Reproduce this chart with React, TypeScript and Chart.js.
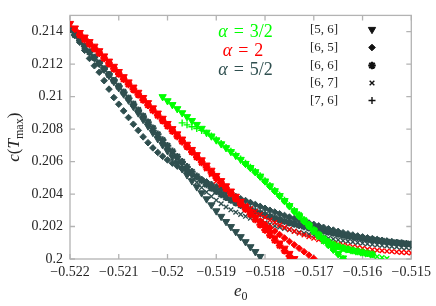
import { useEffect, useRef } from "react";
import { Chart, registerables } from "chart.js";
import { drawPoint } from "chart.js/helpers";

Chart.register(...registerables);

// ---- axes -----------------------------------------------------------
const xTicks = [-0.522, -0.521, -0.52, -0.519, -0.518, -0.517, -0.516, -0.515];
const xTickLabels = ["\u22120.522", "\u22120.521", "\u22120.52", "\u22120.519", "\u22120.518", "\u22120.517", "\u22120.516", "\u22120.515"];
const yTicks = [0.2, 0.202, 0.204, 0.206, 0.208, 0.21, 0.212, 0.214];
const yTickLabels = ["0.2", "0.202", "0.204", "0.206", "0.208", "0.21", "0.212", "0.214"];

// ---- e0 grid (step 1e-4) ------------------------------------------
const e0Grid = [
  -0.522, -0.5219, -0.5218, -0.5217, -0.5216, -0.5215, -0.5214, -0.5213, -0.5212, -0.5211,
  -0.521, -0.5209, -0.5208, -0.5207, -0.5206, -0.5205, -0.5204, -0.5203, -0.5202, -0.5201,
  -0.52, -0.5199, -0.5198, -0.5197, -0.5196, -0.5195, -0.5194, -0.5193, -0.5192, -0.5191,
  -0.519, -0.5189, -0.5188, -0.5187, -0.5186, -0.5185, -0.5184, -0.5183, -0.5182, -0.5181,
  -0.518, -0.5179, -0.5178, -0.5177, -0.5176, -0.5175, -0.5174, -0.5173, -0.5172, -0.5171,
  -0.517, -0.5169, -0.5168, -0.5167, -0.5166, -0.5165, -0.5164, -0.5163, -0.5162, -0.5161,
  -0.516, -0.5159, -0.5158, -0.5157, -0.5156, -0.5155, -0.5154, -0.5153, -0.5152, -0.5151,
  -0.515,
];

// ---- alpha = 3/2 (green) -------------------------------------------
const g56Start = 19;
const g56 = [0.20999, 0.20974, 0.2095, 0.20925, 0.209, 0.20876, 0.20852, 0.20828, 0.20804, 0.2078, 0.20757, 0.20733, 0.20709, 0.20685, 0.20661, 0.20637, 0.20613, 0.20588, 0.20563, 0.20537, 0.2051, 0.2048, 0.2045, 0.2042, 0.2039, 0.20359, 0.20328, 0.20296, 0.20265, 0.20234, 0.20204, 0.20174, 0.20144, 0.20116, 0.20088, 0.2006, 0.20033, 0.20006];
const g76Start = 23;
const g76 = [0.20838, 0.20826, 0.20814, 0.20804, 0.20792, 0.20775, 0.20757, 0.20735, 0.20711, 0.20687, 0.20663, 0.20639, 0.20615, 0.2059, 0.20565, 0.20539, 0.20512, 0.20482, 0.20452, 0.20422, 0.20392, 0.20361, 0.2033, 0.20298, 0.20267];
const g65Start = 36;
const g65 = [0.20584, 0.20559, 0.20533, 0.20506, 0.20476, 0.20446, 0.20416, 0.20386, 0.20355, 0.20324, 0.20292, 0.20261, 0.2023, 0.202, 0.2017, 0.2014, 0.20112, 0.20084, 0.20056, 0.20029, 0.20002];
const g67Start = 44;
const g67 = [0.20359, 0.20328, 0.20296, 0.20265, 0.20234, 0.20198, 0.20164, 0.20134, 0.20108, 0.20086, 0.20075, 0.20066, 0.20058, 0.20051, 0.20045, 0.20039, 0.20033, 0.20027, 0.20021, 0.20015, 0.20009, 0.20003];
const g66Start = 47;
const g66 = [0.2027, 0.2024, 0.2021, 0.20178, 0.2015, 0.20126, 0.20106, 0.2009, 0.20078, 0.20068, 0.2006, 0.20053, 0.20047, 0.20041, 0.20035, 0.20029];

// ---- alpha = 2 (red) ------------------------------------------------
const r56Start = 0;
const r56 = [0.2145, 0.21422, 0.21394, 0.21366, 0.21338, 0.2131, 0.21282, 0.2125, 0.21218, 0.21186, 0.21154, 0.21122, 0.2109, 0.21058, 0.21026, 0.20994, 0.20962, 0.2093, 0.20898, 0.20866, 0.20834, 0.20802, 0.2077, 0.20738, 0.20706, 0.20674, 0.20642, 0.2061, 0.20578, 0.20546, 0.20514, 0.20482, 0.2045, 0.20418, 0.20386, 0.20354, 0.20322, 0.2029, 0.20258, 0.20226, 0.20194, 0.20162, 0.2013, 0.20098, 0.20066, 0.20034, 0.20002];
const r66Start = 2;
const r66 = [0.21379, 0.21351, 0.21323, 0.21295, 0.21267, 0.21235, 0.21203, 0.21171, 0.21139, 0.21107, 0.21075, 0.21043, 0.21011, 0.20979, 0.20947, 0.20915, 0.20883, 0.20851, 0.20819, 0.20787, 0.20755, 0.20723, 0.20691, 0.20659, 0.20627, 0.20595, 0.20563, 0.20531, 0.20499, 0.20467, 0.20435, 0.20403, 0.20371, 0.20339, 0.20307, 0.20275, 0.20243, 0.20211, 0.20179, 0.20147, 0.20115, 0.20083, 0.20051, 0.20019];
const r65Start = 1;
const r65 = [0.21414, 0.21386, 0.21358, 0.2133, 0.21302, 0.21274, 0.21242, 0.2121, 0.21178, 0.21146, 0.21114, 0.21082, 0.2105, 0.21018, 0.20986, 0.20954, 0.20922, 0.2089, 0.20858, 0.20826, 0.20794, 0.20762, 0.2073, 0.20698, 0.20666, 0.20634, 0.20602, 0.2057, 0.20538, 0.20506, 0.20474, 0.20442, 0.2041, 0.20378, 0.20346, 0.20314, 0.20284, 0.20258, 0.20235, 0.20213, 0.20192, 0.20171, 0.2015, 0.20129, 0.20108, 0.20087, 0.20066, 0.20045, 0.20024, 0.20003];
const r67Start = 18;
const r67 = [0.2089, 0.2086, 0.2083, 0.208, 0.2076, 0.2073, 0.207, 0.2066, 0.2063, 0.2059, 0.20555, 0.2052, 0.2048, 0.20455, 0.2043, 0.20405, 0.2038, 0.20355, 0.2033, 0.2031, 0.20292, 0.20274, 0.20256, 0.20239, 0.20224, 0.20209, 0.20195, 0.20182, 0.2017, 0.20159, 0.20148, 0.20138, 0.20128, 0.20119, 0.2011, 0.20102, 0.20096, 0.2009, 0.20085, 0.2008, 0.20075, 0.2007, 0.20065, 0.2006, 0.20057, 0.20054, 0.20051, 0.20048, 0.20046, 0.20043, 0.20041, 0.20039, 0.20037];

// ---- alpha = 5/2 (dark slate) ---------------------------------------
const d56Start = 0;
const d56 = [0.2142, 0.21384, 0.21348, 0.21312, 0.21276, 0.2124, 0.21204, 0.21168, 0.2113, 0.21092, 0.21054, 0.21016, 0.20978, 0.20939, 0.20899, 0.20859, 0.20819, 0.20779, 0.2074, 0.20703, 0.20666, 0.20629, 0.20592, 0.20555, 0.20518, 0.20481, 0.20444, 0.20407, 0.2037, 0.20333, 0.20296, 0.20262, 0.2023, 0.20199, 0.20168, 0.20137, 0.20106, 0.20075, 0.20045, 0.20015];
const d65Start = 0;
const d65 = [0.2142, 0.2138, 0.21335, 0.21285, 0.21235, 0.2119, 0.2115, 0.21098, 0.21046, 0.20994, 0.20953, 0.20912, 0.20871, 0.2083, 0.20792, 0.20752, 0.20716, 0.20684, 0.20656, 0.20632, 0.2061, 0.2059, 0.20572, 0.20555, 0.2054, 0.20523, 0.20506, 0.2049, 0.20475, 0.2046, 0.20445, 0.2043, 0.20415, 0.204, 0.20385, 0.20371, 0.2036, 0.20348, 0.20336, 0.20324, 0.20312, 0.203, 0.20289, 0.20278, 0.20268, 0.20258, 0.20249, 0.2024, 0.20231, 0.20222, 0.20213, 0.20204, 0.20195, 0.20186, 0.20178, 0.2017, 0.20162, 0.20155, 0.20148, 0.20142, 0.20136, 0.2013, 0.20125, 0.2012, 0.20115, 0.2011, 0.20106, 0.20102, 0.20098, 0.20094, 0.2009];
const d67Start = 0;
const d67 = [0.2142, 0.21386, 0.21352, 0.21318, 0.21284, 0.2125, 0.21214, 0.21178, 0.21142, 0.21106, 0.2107, 0.21033, 0.20996, 0.20958, 0.2092, 0.20882, 0.20844, 0.20806, 0.20768, 0.2073, 0.20692, 0.20654, 0.20616, 0.20578, 0.2054, 0.20505, 0.20472, 0.2044, 0.20412, 0.20386, 0.20362, 0.2034, 0.2032, 0.20303, 0.20288, 0.20275, 0.20263, 0.20252, 0.20242, 0.20232, 0.20222, 0.20213, 0.20204, 0.20196, 0.20188, 0.2018, 0.20172, 0.20165, 0.20158, 0.20152, 0.20146, 0.2014, 0.20134, 0.20128, 0.20123, 0.20118, 0.20113, 0.20109, 0.20105, 0.20101, 0.20097, 0.20093, 0.2009, 0.20087, 0.20084, 0.20081, 0.20078, 0.20075, 0.20072, 0.2007, 0.20068];
const d66Start = 0;
const d66 = [0.21415, 0.2138, 0.21345, 0.2131, 0.21275, 0.2124, 0.21205, 0.2117, 0.21134, 0.21098, 0.21062, 0.21026, 0.2099, 0.20953, 0.20916, 0.20879, 0.20842, 0.20805, 0.20768, 0.20732, 0.20697, 0.20663, 0.2063, 0.20598, 0.20567, 0.20537, 0.20509, 0.20483, 0.20459, 0.20437, 0.20417, 0.20398, 0.2038, 0.20363, 0.20347, 0.20332, 0.20318, 0.20305, 0.20293, 0.20282, 0.20271, 0.20261, 0.20251, 0.20242, 0.20233, 0.20224, 0.20216, 0.20208, 0.202, 0.20193, 0.20186, 0.20179, 0.20172, 0.20166, 0.2016, 0.20154, 0.20148, 0.20143, 0.20138, 0.20133, 0.20128, 0.20123, 0.20119, 0.20115, 0.20111, 0.20107, 0.20103, 0.201, 0.20097, 0.20094, 0.20091];

// ---- legend ---------------------------------------------------------
const alphaLabels = ["3/2", "2", "5/2"];
const sizeLabels = ["[5, 6]", "[6, 5]", "[6, 6]", "[6, 7]", "[7, 6]"];

const GREEN = "#00ff00";
const RED = "#ff0000";
const DARK = "#2f4f4f";
const alphaColors = [GREEN, RED, DARK];

const SERIF = "'Liberation Serif', serif";
const TEXT = "#262626";
const FRAME = "#b3b3b3";

type Mk = { pointStyle: any; rotation: number; radius: number; borderWidth: number };
const MK: Record<string, Mk> = {
  s56: { pointStyle: "triangle", rotation: 180, radius: 4.2, borderWidth: 1 },
  s65: { pointStyle: "rectRot", rotation: 0, radius: 3.3, borderWidth: 1 },
  s66: { pointStyle: "star", rotation: 0, radius: 3.8, borderWidth: 2 },
  s67: { pointStyle: "crossRot", rotation: 0, radius: 3.3, borderWidth: 1.4 },
  s76: { pointStyle: "cross", rotation: 0, radius: 3.5, borderWidth: 1.4 },
};
const legendKeys = ["s56", "s65", "s66", "s67", "s76"];

function ds(label: string, start: number, ys: number[], color: string, mk: Mk) {
  return {
    label,
    data: ys.map((y, k) => ({ x: e0Grid[start + k], y })),
    showLine: false,
    backgroundColor: color,
    borderColor: color,
    pointStyle: mk.pointStyle,
    pointRotation: mk.rotation,
    pointRadius: mk.radius,
    pointHoverRadius: mk.radius,
    pointBorderWidth: mk.borderWidth,
  };
}

type Run = { text: string; font: string; dy?: number; gap?: number };
function drawRuns(ctx: CanvasRenderingContext2D, runs: Run[], cx: number, baseline: number, color: string) {
  let total = 0;
  const widths = runs.map((r) => {
    ctx.font = r.font;
    const w = ctx.measureText(r.text).width + (r.gap || 0);
    total += w;
    return w;
  });
  let x = cx - total / 2;
  ctx.fillStyle = color;
  ctx.textAlign = "left";
  ctx.textBaseline = "alphabetic";
  runs.forEach((r, i) => {
    ctx.font = r.font;
    ctx.fillText(r.text, x, baseline + (r.dy || 0));
    x += widths[i];
  });
}

const decor = {
  id: "decor",
  beforeDatasetsDraw(chart: any) {
    const { ctx, chartArea: a, scales } = chart;
    ctx.save();
    ctx.strokeStyle = FRAME;
    ctx.lineWidth = 1.3;
    ctx.strokeRect(a.left, a.top, a.right - a.left, a.bottom - a.top);
    const tl = 5;
    ctx.beginPath();
    xTicks.forEach((v) => {
      const px = scales.x.getPixelForValue(v);
      ctx.moveTo(px, a.bottom);
      ctx.lineTo(px, a.bottom - tl);
      ctx.moveTo(px, a.top);
      ctx.lineTo(px, a.top + tl);
    });
    yTicks.forEach((v) => {
      const py = scales.y.getPixelForValue(v);
      ctx.moveTo(a.left, py);
      ctx.lineTo(a.left + tl, py);
      ctx.moveTo(a.right, py);
      ctx.lineTo(a.right - tl, py);
    });
    ctx.stroke();
    ctx.restore();
  },
  afterDraw(chart: any) {
    const { ctx, chartArea: a } = chart;
    ctx.save();
    // alpha labels
    const centers = [245.5, 243, 245.5];
    const baselines = [37, 56, 75];
    alphaLabels.forEach((lab, i) => {
      drawRuns(
        ctx,
        [
          { text: "\u03b1", font: `italic 18px ${SERIF}`, gap: 6 },
          { text: "=", font: `18px ${SERIF}`, gap: 6 },
          { text: lab, font: `18px ${SERIF}` },
        ],
        centers[i],
        baselines[i],
        alphaColors[i]
      );
    });
    // size legend
    const rows = [29.5, 47.5, 65.5, 83, 100.5];
    sizeLabels.forEach((lab, i) => {
      ctx.font = `13px ${SERIF}`;
      ctx.fillStyle = TEXT;
      ctx.textAlign = "left";
      ctx.textBaseline = "middle";
      ctx.fillText(lab, 310, rows[i]);
      const mk = MK[legendKeys[i]];
      ctx.fillStyle = "#111";
      ctx.strokeStyle = "#111";
      ctx.lineWidth = mk.borderWidth;
      drawPoint(ctx, { pointStyle: mk.pointStyle, rotation: mk.rotation, radius: mk.radius, borderWidth: mk.borderWidth } as any, 372, rows[i]);
    });
    // x title
    drawRuns(
      ctx,
      [
        { text: "e", font: `italic 17px ${SERIF}` },
        { text: "0", font: `12px ${SERIF}`, dy: 3.5 },
      ],
      (a.left + a.right) / 2,
      296,
      TEXT
    );
    // y title
    ctx.translate(19, (a.top + a.bottom) / 2);
    ctx.rotate(-Math.PI / 2);
    drawRuns(
      ctx,
      [
        { text: "c", font: `italic 17px ${SERIF}` },
        { text: "(", font: `17px ${SERIF}` },
        { text: "T", font: `italic 17px ${SERIF}` },
        { text: "max", font: `12px ${SERIF}`, dy: 3.5 },
        { text: ")", font: `17px ${SERIF}` },
      ],
      0,
      0,
      TEXT
    );
    ctx.restore();
  },
};

export default function App() {
  const ref = useRef<HTMLCanvasElement | null>(null);
  useEffect(() => {
    if (!ref.current) return;
    const datasets = [
      ds("g56", g56Start, g56, GREEN, MK.s56),
      ds("g76", g76Start, g76, GREEN, MK.s76),
      ds("g65", g65Start, g65, GREEN, MK.s65),
      ds("g67", g67Start, g67, GREEN, MK.s67),
      ds("g66", g66Start, g66, GREEN, MK.s66),
      ds("r56", r56Start, r56, RED, MK.s56),
      ds("r66", r66Start, r66, RED, MK.s66),
      ds("r65", r65Start, r65, RED, MK.s65),
      ds("r67", r67Start, r67, RED, MK.s67),
      ds("d56", d56Start, d56, DARK, MK.s56),
      ds("d65", d65Start, d65, DARK, MK.s65),
      ds("d67", d67Start, d67, DARK, MK.s67),
      ds("d66", d66Start, d66, DARK, MK.s66),
    ];
    const chart = new Chart(ref.current, {
      type: "scatter",
      data: { datasets } as any,
      plugins: [decor],
      options: {
        animation: false,
        responsive: false,
        events: [],
        layout: { padding: { top: 14, right: 24, left: 0, bottom: 0 } },
        plugins: { legend: { display: false }, tooltip: { enabled: false } },
        scales: {
          x: {
            type: "linear",
            min: -0.522,
            max: -0.515,
            afterBuildTicks: (s: any) => {
              s.ticks = xTicks.map((v) => ({ value: v }));
            },
            afterFit: (s: any) => {
              s.height = 47;
            },
            grid: { display: false, drawTicks: false },
            border: { display: false },
            ticks: {
              autoSkip: false,
              maxRotation: 0,
              padding: 5,
              color: TEXT,
              font: { family: SERIF, size: 14 },
              callback: (_v: any, i: number) => xTickLabels[i],
            },
          },
          y: {
            type: "linear",
            min: 0.2,
            max: 0.215,
            afterBuildTicks: (s: any) => {
              s.ticks = yTicks.map((v) => ({ value: v }));
            },
            afterFit: (s: any) => {
              s.width = 70;
            },
            grid: { display: false, drawTicks: false },
            border: { display: false },
            ticks: {
              autoSkip: false,
              padding: 7,
              color: TEXT,
              font: { family: SERIF, size: 14 },
              callback: (_v: any, i: number) => yTickLabels[i],
            },
          },
        },
      } as any,
    });
    return () => chart.destroy();
  }, []);
  return (
    <div style={{ position: "absolute", left: 0, top: 0, width: 436, height: 306 }}>
      <canvas ref={ref} width={436} height={306} />
    </div>
  );
}
